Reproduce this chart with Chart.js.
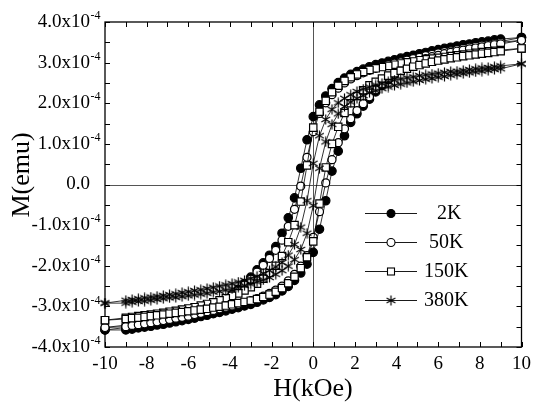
<!DOCTYPE html>
<html>
<head>
<meta charset="utf-8">
<script src="https://cdn.jsdelivr.net/npm/chart.js@4.4.1/dist/chart.umd.min.js"></script>
<style>
  html, body { margin: 0; padding: 0; background: #fff; }
  canvas { display: block; }
</style>
</head>
<body>
<canvas id="loops" width="537" height="412"></canvas>
<script>
// field sweep in kOe: +10 down to -10, then back up to +10
const fieldDown = [10, 9, 8.7, 8.4, 8.1, 7.8, 7.5, 7.2, 6.9, 6.6, 6.3, 6, 5.7, 5.4, 5.1, 4.8, 4.5, 4.2, 3.9, 3.6, 3.3, 3, 2.7, 2.4, 2.1, 1.8, 1.5, 1.2, 0.9, 0.6, 0.3, 0,
  -0.3, -0.6, -0.9, -1.2, -1.5, -1.8, -2.1, -2.4, -2.7, -3, -3.3, -3.6, -3.9, -4.2, -4.5, -4.8, -5.1, -5.4, -5.7, -6, -6.3, -6.6, -6.9, -7.2, -7.5, -7.8, -8.1, -8.4, -8.7, -9, -10];
const fieldUp = [-10, -9, -8.7, -8.4, -8.1, -7.8, -7.5, -7.2, -6.9, -6.6, -6.3, -6, -5.7, -5.4, -5.1, -4.8, -4.5, -4.2, -3.9, -3.6, -3.3, -3, -2.7, -2.4, -2.1, -1.8, -1.5, -1.2, -0.9, -0.6, -0.3, 0,
  0.3, 0.6, 0.9, 1.2, 1.5, 1.8, 2.1, 2.4, 2.7, 3, 3.3, 3.6, 3.9, 4.2, 4.5, 4.8, 5.1, 5.4, 5.7, 6, 6.3, 6.6, 6.9, 7.2, 7.5, 7.8, 8.1, 8.4, 8.7, 9, 10];

// M in units of 1e-4 emu
const m2kDown = [3.62, 3.58, 3.56, 3.53, 3.51, 3.49, 3.46, 3.44, 3.41, 3.38, 3.35, 3.32, 3.29, 3.25, 3.22, 3.18, 3.15, 3.11, 3.07, 3.03, 2.99, 2.95, 2.90, 2.84, 2.78, 2.71, 2.62, 2.51, 2.36, 2.18, 1.96, 1.67,
  1.10, 0.40, -0.33, -0.82, -1.20, -1.53, -1.74, -1.93, -2.10, -2.28, -2.44, -2.58, -2.71, -2.82, -2.92, -3.00, -3.07, -3.13, -3.18, -3.23, -3.26, -3.30, -3.33, -3.36, -3.39, -3.42, -3.44, -3.47, -3.50, -3.52, -3.58];
const m2kUp = [-3.58, -3.58, -3.56, -3.53, -3.51, -3.49, -3.46, -3.44, -3.41, -3.38, -3.35, -3.32, -3.29, -3.25, -3.22, -3.18, -3.15, -3.11, -3.07, -3.03, -2.99, -2.95, -2.90, -2.84, -2.78, -2.71, -2.62, -2.51, -2.36, -2.18, -1.96, -1.67,
  -1.10, -0.40, 0.33, 0.82, 1.20, 1.53, 1.74, 1.93, 2.10, 2.28, 2.44, 2.58, 2.71, 2.82, 2.92, 3.00, 3.07, 3.13, 3.18, 3.23, 3.26, 3.30, 3.33, 3.36, 3.39, 3.42, 3.44, 3.47, 3.50, 3.52, 3.62];

const m50kDown = [3.55, 3.50, 3.47, 3.45, 3.43, 3.40, 3.38, 3.35, 3.32, 3.29, 3.27, 3.24, 3.20, 3.17, 3.13, 3.10, 3.06, 3.02, 2.99, 2.95, 2.91, 2.86, 2.81, 2.75, 2.68, 2.60, 2.50, 2.37, 2.21, 2.01, 1.75, 1.30,
  0.67, -0.04, -0.61, -1.03, -1.37, -1.62, -1.82, -1.99, -2.16, -2.33, -2.47, -2.60, -2.72, -2.82, -2.91, -2.98, -3.04, -3.10, -3.15, -3.18, -3.22, -3.25, -3.28, -3.31, -3.34, -3.36, -3.39, -3.42, -3.44, -3.46, -3.52];
const m50kUp = [-3.52, -3.50, -3.47, -3.45, -3.43, -3.40, -3.38, -3.35, -3.32, -3.29, -3.27, -3.24, -3.20, -3.17, -3.13, -3.10, -3.06, -3.02, -2.99, -2.95, -2.91, -2.86, -2.81, -2.75, -2.68, -2.60, -2.50, -2.37, -2.21, -2.01, -1.75, -1.30,
  -0.67, 0.04, 0.61, 1.03, 1.37, 1.62, 1.82, 1.99, 2.16, 2.33, 2.47, 2.60, 2.72, 2.82, 2.91, 2.98, 3.04, 3.10, 3.15, 3.18, 3.22, 3.25, 3.28, 3.31, 3.34, 3.36, 3.39, 3.42, 3.44, 3.46, 3.55];

const m150kDown = [3.35, 3.31, 3.29, 3.28, 3.26, 3.24, 3.22, 3.20, 3.18, 3.16, 3.14, 3.12, 3.10, 3.08, 3.06, 3.03, 3.01, 2.98, 2.95, 2.92, 2.89, 2.86, 2.82, 2.77, 2.71, 2.64, 2.55, 2.43, 2.27, 2.06, 1.79, 1.40,
  0.47, -0.42, -1.00, -1.42, -1.76, -2.00, -2.18, -2.32, -2.44, -2.53, -2.61, -2.68, -2.74, -2.80, -2.85, -2.90, -2.94, -2.98, -3.02, -3.05, -3.08, -3.11, -3.13, -3.16, -3.18, -3.20, -3.22, -3.24, -3.26, -3.28, -3.34];
const m150kUp = [-3.34, -3.31, -3.29, -3.28, -3.26, -3.24, -3.22, -3.20, -3.18, -3.16, -3.14, -3.12, -3.10, -3.08, -3.06, -3.03, -3.01, -2.98, -2.95, -2.92, -2.89, -2.86, -2.82, -2.77, -2.71, -2.64, -2.55, -2.43, -2.27, -2.06, -1.79, -1.40,
  -0.47, 0.42, 1.00, 1.42, 1.76, 2.00, 2.18, 2.32, 2.44, 2.53, 2.61, 2.68, 2.74, 2.80, 2.85, 2.90, 2.94, 2.98, 3.02, 3.05, 3.08, 3.11, 3.13, 3.16, 3.18, 3.20, 3.22, 3.24, 3.26, 3.28, 3.35];

const m380kDown = [2.97, 2.92, 2.90, 2.88, 2.87, 2.85, 2.83, 2.81, 2.79, 2.78, 2.76, 2.74, 2.72, 2.70, 2.68, 2.65, 2.63, 2.60, 2.57, 2.53, 2.49, 2.45, 2.40, 2.35, 2.29, 2.21, 2.12, 2.01, 1.85, 1.60, 1.20, 0.52,
  -0.40, -1.05, -1.48, -1.74, -1.92, -2.03, -2.12, -2.19, -2.26, -2.31, -2.36, -2.40, -2.44, -2.47, -2.50, -2.53, -2.56, -2.59, -2.61, -2.64, -2.66, -2.69, -2.71, -2.73, -2.75, -2.77, -2.79, -2.81, -2.83, -2.85, -2.92];
const m380kUp = [-2.92, -2.92, -2.90, -2.88, -2.87, -2.85, -2.83, -2.81, -2.79, -2.78, -2.76, -2.74, -2.72, -2.70, -2.68, -2.65, -2.63, -2.60, -2.57, -2.53, -2.49, -2.45, -2.40, -2.35, -2.29, -2.21, -2.12, -2.01, -1.85, -1.60, -1.20, -0.52,
  0.40, 1.05, 1.48, 1.74, 1.92, 2.03, 2.12, 2.19, 2.26, 2.31, 2.36, 2.40, 2.44, 2.47, 2.50, 2.53, 2.56, 2.59, 2.61, 2.64, 2.66, 2.69, 2.71, 2.73, 2.75, 2.77, 2.79, 2.81, 2.83, 2.85, 2.97];

const temps = ['2K', '50K', '150K', '380K'];
const yTicks = [-4, -3, -2, -1, 0, 1, 2, 3, 4];

const SERIF = '"Liberation Serif", "Times New Roman", serif';

function loop(down, up) {
  const pts = [];
  fieldDown.forEach((h, i) => pts.push({ x: h, y: down[i] }));
  fieldUp.forEach((h, i) => pts.push({ x: h, y: up[i] }));
  return pts;
}

// six-armed asterisk marker
function makeStar(size) {
  const c = document.createElement('canvas');
  c.width = size; c.height = size;
  const g = c.getContext('2d');
  const r = size / 2 - 0.5, m = size / 2;
  g.strokeStyle = '#000';
  g.lineWidth = 1.2;
  for (let k = 0; k < 3; k++) {
    const a = Math.PI / 2 + k * Math.PI / 3;
    g.beginPath();
    g.moveTo(m - r * Math.cos(a), m - r * Math.sin(a));
    g.lineTo(m + r * Math.cos(a), m + r * Math.sin(a));
    g.stroke();
  }
  return c;
}
const star = makeStar(11);

const styles = [
  { pointStyle: 'circle', pointRadius: 4.2, fill: '#000' },
  { pointStyle: 'circle', pointRadius: 4, fill: '#fff' },
  { pointStyle: 'rect', pointRadius: 5.2, fill: '#fff' },
  { pointStyle: star, pointRadius: 5, fill: '#fff' }
];

const series = [loop(m2kDown, m2kUp), loop(m50kDown, m50kUp), loop(m150kDown, m150kUp), loop(m380kDown, m380kUp)];

const datasets = series.map((d, i) => ({
  label: temps[i],
  data: d,
  showLine: true,
  borderColor: '#000',
  borderWidth: 0.8,
  pointStyle: styles[i].pointStyle,
  pointRadius: styles[i].pointRadius,
  pointBackgroundColor: styles[i].fill,
  pointBorderColor: '#000',
  pointBorderWidth: 1.2,
  clip: false,
  order: 3 - i
}));

const framePlugin = {
  id: 'frame',
  beforeDatasetsDraw(chart) {
    const { ctx, chartArea: a, scales: { x, y } } = chart;
    ctx.save();
    // zero lines
    ctx.strokeStyle = '#555';
    ctx.lineWidth = 1;
    const x0 = Math.round(x.getPixelForValue(0)) + 0.5;
    const y0 = Math.round(y.getPixelForValue(0)) + 0.5;
    ctx.beginPath();
    ctx.moveTo(x0, a.top); ctx.lineTo(x0, a.bottom);
    ctx.moveTo(a.left, y0); ctx.lineTo(a.right, y0);
    ctx.stroke();
    // box and inward ticks
    ctx.strokeStyle = '#000';
    ctx.lineWidth = 1.3;
    ctx.strokeRect(a.left, a.top, a.right - a.left, a.bottom - a.top);
    ctx.lineWidth = 1;
    ctx.beginPath();
    for (let v = -10; v <= 10; v++) {
      const px = Math.round(x.getPixelForValue(v)) + 0.5;
      ctx.moveTo(px, a.bottom); ctx.lineTo(px, a.bottom - 5);
      ctx.moveTo(px, a.top); ctx.lineTo(px, a.top + 5);
    }
    for (let v = -4; v <= 4; v += 0.5) {
      const py = Math.round(y.getPixelForValue(v)) + 0.5;
      ctx.moveTo(a.left, py); ctx.lineTo(a.left + 5, py);
      ctx.moveTo(a.right, py); ctx.lineTo(a.right - 5, py);
    }
    ctx.stroke();
    ctx.restore();
  },
  afterDraw(chart) {
    const { ctx, scales: { y } } = chart;
    ctx.save();
    ctx.fillStyle = '#000';
    // y tick labels with superscript exponent
    yTicks.forEach(v => {
      const py = y.getPixelForValue(v);
      ctx.textBaseline = 'middle';
      ctx.textAlign = 'right';
      ctx.font = '19px ' + SERIF;
      if (v === 0) {
        ctx.fillText('0.0', 90, py);
      } else {
        ctx.fillText(v.toFixed(1) + 'x10', 90, py);
        ctx.textAlign = 'left';
        ctx.font = '12px ' + SERIF;
        ctx.fillText('-4', 90.5, py - 6);
      }
    });
    // axis titles
    ctx.font = '26px ' + SERIF;
    ctx.textAlign = 'center';
    ctx.textBaseline = 'middle';
    ctx.fillText('H(kOe)', 313, 389);
    ctx.save();
    ctx.translate(22, 175);
    ctx.rotate(-Math.PI / 2);
    ctx.fillText('M(emu)', 0, 0);
    ctx.restore();
    // legend
    const rows = [213, 242, 271, 300];
    const textX = [437, 429, 424, 424];
    rows.forEach((ry, i) => {
      ctx.strokeStyle = '#000';
      ctx.lineWidth = 0.9;
      ctx.beginPath();
      ctx.moveTo(365, ry + 0.5); ctx.lineTo(417, ry + 0.5);
      ctx.stroke();
      const mx = 391;
      ctx.lineWidth = 1.1;
      if (i === 0 || i === 1) {
        ctx.beginPath();
        ctx.arc(mx, ry + 0.5, 4, 0, Math.PI * 2);
        ctx.fillStyle = i === 0 ? '#000' : '#fff';
        ctx.fill();
        ctx.stroke();
      } else if (i === 2) {
        ctx.fillStyle = '#fff';
        ctx.fillRect(mx - 3.5, ry - 3, 7, 7);
        ctx.strokeRect(mx - 3.5, ry - 3, 7, 7);
      } else {
        ctx.drawImage(star, mx - 5.5, ry - 5);
      }
      ctx.fillStyle = '#000';
      ctx.font = '20px ' + SERIF;
      ctx.textAlign = 'left';
      ctx.textBaseline = 'middle';
      ctx.fillText(temps[i], textX[i], ry + 1);
    });
    ctx.restore();
  }
};

new Chart(document.getElementById('loops'), {
  type: 'scatter',
  data: { datasets },
  options: {
    responsive: false,
    animation: false,
    layout: { padding: { top: 22, right: 10, left: 0, bottom: 0 } },
    plugins: { legend: { display: false }, tooltip: { enabled: false } },
    scales: {
      x: {
        type: 'linear', min: -10, max: 10,
        grid: { display: false, drawTicks: false },
        border: { display: false },
        ticks: { stepSize: 2, color: '#000', padding: 6, font: { family: SERIF, size: 19 } },
        afterFit(s) { s.height = 65; }
      },
      y: {
        type: 'linear', min: -4, max: 4,
        grid: { display: false, drawTicks: false },
        border: { display: false },
        ticks: { display: false, stepSize: 1 },
        afterFit(s) { s.width = 105; }
      }
    }
  },
  plugins: [framePlugin]
});
</script>
</body>
</html>
